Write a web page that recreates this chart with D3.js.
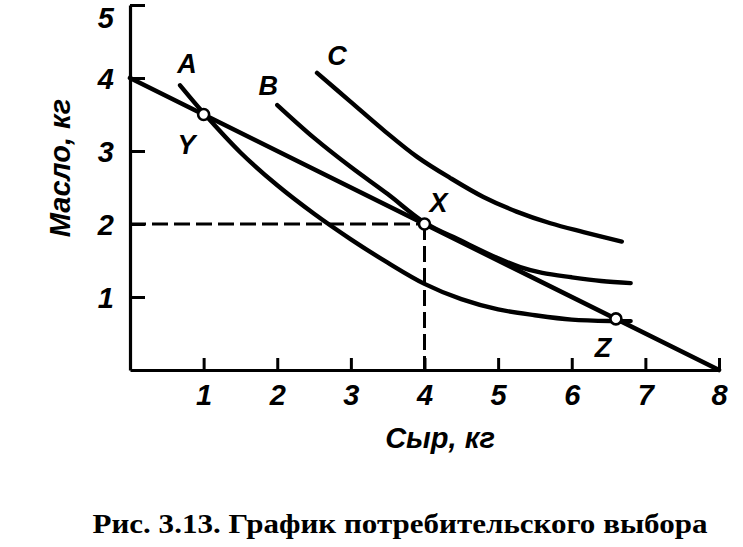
<!DOCTYPE html>
<html>
<head>
<meta charset="utf-8">
<script src="https://cdn.jsdelivr.net/npm/d3@7"></script>
<style>
  html, body { margin: 0; padding: 0; background: #fff; }
  svg { display: block; }
</style>
</head>
<body>
<svg id="chart" width="743" height="547"></svg>
<script>
// ---- data ----
const xTicks = [1, 2, 3, 4, 5, 6, 7, 8];
const yTicks = [1, 2, 3, 4, 5];
const xTitle = "Сыр, кг";
const yTitle = "Масло, кг";
const caption = "Рис. 3.13. График потребительского выбора";

// budget line: cheese (x) vs butter (y)
const budgetX = [0, 8];
const budgetY = [4, 0];

// indifference curves
const curveA_x = [0.68, 1.0, 1.5, 2.0, 2.5, 3.0, 3.5, 4.0, 4.5, 5.0, 5.5, 6.0, 6.55, 6.8];
const curveA_y = [3.90, 3.52, 2.98, 2.53, 2.14, 1.79, 1.47, 1.18, 0.97, 0.83, 0.75, 0.69, 0.67, 0.67];
const curveB_x = [2.0, 2.5, 3.0, 3.5, 4.0, 4.5, 5.0, 5.3, 5.6, 6.0, 6.4, 6.8];
const curveB_y = [3.63, 3.18, 2.78, 2.41, 2.02, 1.77, 1.53, 1.41, 1.33, 1.27, 1.22, 1.19];
const curveC_x = [2.54, 2.99, 3.44, 3.90, 4.35, 4.80, 5.25, 5.71, 6.16, 6.68];
const curveC_y = [4.07, 3.68, 3.29, 2.92, 2.63, 2.37, 2.17, 2.01, 1.89, 1.76];
const curveNames = ["A", "B", "C"];

// marked points
const pointNames = ["Y", "X", "Z"];
const pointX = [1.0, 4.0, 6.6];
const pointY = [3.5, 2.0, 0.7];

// ---- drawing ----
const svg = d3.select("#chart");
const x = d3.scaleLinear().domain([0, 8]).range([130, 719]);
const y = d3.scaleLinear().domain([0, 5]).range([370, 5]);

const labelFont = "'Liberation Sans Narrow', 'Liberation Sans', Arial, sans-serif";

// axes
const xAxis = d3.axisBottom(x).tickValues(xTicks).tickSizeInner(-12).tickSizeOuter(0).tickPadding(14).tickFormat(d3.format("d"));
const yAxis = d3.axisLeft(y).tickValues(yTicks).tickSizeInner(-15).tickSizeOuter(0).tickPadding(16).tickFormat(d3.format("d"));

const gx = svg.append("g").attr("transform", `translate(0,${y(0)})`).call(xAxis);
const gy = svg.append("g").attr("transform", `translate(${x(0)},0)`).call(yAxis);

[gx, gy].forEach(g => {
  g.select(".domain").attr("stroke", "#000").attr("stroke-width", 3.2);
  g.selectAll(".tick line").attr("stroke", "#000").attr("stroke-width", 3);
  g.selectAll(".tick text")
    .attr("fill", "#000")
    .style("font-family", labelFont)
    .style("font-style", "italic")
    .style("font-weight", "bold")
    .style("font-size", "29px");
});
gy.selectAll(".tick text").attr("dy", d => d === 5 ? "0.78em" : "0.36em");
gx.selectAll(".tick text").attr("dy", "0.72em");

// dashed guide lines to X
svg.append("line")
  .attr("x1", x(0)).attr("y1", y(pointY[1]))
  .attr("x2", x(pointX[1])).attr("y2", y(pointY[1]))
  .attr("stroke", "#000").attr("stroke-width", 3)
  .attr("stroke-dasharray", "16,6");
svg.append("line")
  .attr("x1", x(pointX[1])).attr("y1", y(pointY[1]))
  .attr("x2", x(pointX[1])).attr("y2", y(0))
  .attr("stroke", "#000").attr("stroke-width", 3)
  .attr("stroke-dasharray", "16,6");

// budget line
svg.append("line")
  .attr("x1", x(budgetX[0])).attr("y1", y(budgetY[0]))
  .attr("x2", x(budgetX[1])).attr("y2", y(budgetY[1]))
  .attr("stroke", "#000").attr("stroke-width", 4.6)
  .attr("stroke-linecap", "round");

// indifference curves
const line = d3.line().x(d => x(d[0])).y(d => y(d[1])).curve(d3.curveCatmullRom.alpha(0.5));
const curves = [
  d3.zip(curveA_x, curveA_y),
  d3.zip(curveB_x, curveB_y),
  d3.zip(curveC_x, curveC_y)
];
svg.selectAll("path.curve").data(curves).enter().append("path")
  .attr("class", "curve")
  .attr("d", line)
  .attr("fill", "none")
  .attr("stroke", "#000")
  .attr("stroke-width", 4.4)
  .attr("stroke-linecap", "round");

// curve labels near their starts
const curveLabelOffset = [[7, -12], [-9, -10], [20, -8]];
svg.selectAll("text.clabel").data(curves).enter().append("text")
  .attr("class", "clabel")
  .attr("x", (d, i) => x(d[0][0]) + curveLabelOffset[i][0])
  .attr("y", (d, i) => y(d[0][1]) + curveLabelOffset[i][1])
  .attr("text-anchor", "middle")
  .style("font-family", labelFont)
  .style("font-style", "italic")
  .style("font-weight", "bold")
  .style("font-size", "27px")
  .text((d, i) => curveNames[i]);

// points
const pts = d3.range(pointNames.length).map(i => ({ n: pointNames[i], x: pointX[i], y: pointY[i] }));
svg.selectAll("circle.pt").data(pts).enter().append("circle")
  .attr("class", "pt")
  .attr("cx", d => x(d.x)).attr("cy", d => y(d.y)).attr("r", 5.5)
  .attr("fill", "#fff").attr("stroke", "#000").attr("stroke-width", 2.6);

const pointLabelOffset = { Y: [-17, 39], X: [14, -12], Z: [-13, 38] };
svg.selectAll("text.plabel").data(pts).enter().append("text")
  .attr("class", "plabel")
  .attr("x", d => x(d.x) + pointLabelOffset[d.n][0])
  .attr("y", d => y(d.y) + pointLabelOffset[d.n][1])
  .attr("text-anchor", "middle")
  .style("font-family", labelFont)
  .style("font-style", "italic")
  .style("font-weight", "bold")
  .style("font-size", "27px")
  .text(d => d.n);

// axis titles
svg.append("text")
  .attr("x", 440).attr("y", 448)
  .attr("text-anchor", "middle")
  .style("font-family", labelFont)
  .style("font-style", "italic")
  .style("font-weight", "bold")
  .style("font-size", "29px")
  .text(xTitle);

svg.append("text")
  .attr("transform", "translate(70,168) rotate(-90)")
  .attr("text-anchor", "middle")
  .style("font-family", labelFont)
  .style("font-style", "italic")
  .style("font-weight", "bold")
  .style("font-size", "29px")
  .text(yTitle);

// caption
svg.append("text")
  .attr("x", 400).attr("y", 533)
  .attr("text-anchor", "middle")
  .attr("textLength", 615)
  .attr("lengthAdjust", "spacingAndGlyphs")
  .style("font-family", "'Liberation Serif', 'Times New Roman', serif")
  .style("font-weight", "bold")
  .style("font-size", "28px")
  .text(caption);
</script>
</body>
</html>
